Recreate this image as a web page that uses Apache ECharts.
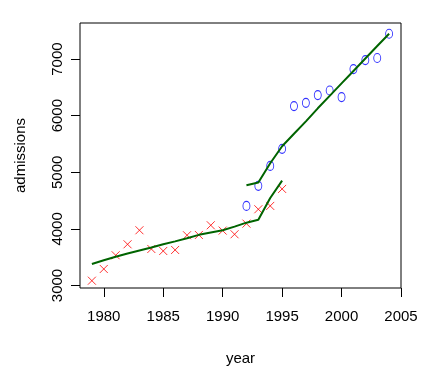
<!DOCTYPE html>
<html>
<head>
<meta charset="utf-8">
<script src="https://cdn.jsdelivr.net/npm/echarts@6/dist/echarts.min.js"></script>
<style>
html,body{margin:0;padding:0;background:#fff;}
#chart{width:427px;height:378px;}
</style>
</head>
<body>
<div id="chart"></div>
<script>
// Red "x" points (earlier series)
var redYears = [1979,1980,1981,1982,1983,1984,1985,1986,1987,1988,1989,1990,1991,1992,1993,1994,1995];
var redValues = [3085,3292,3534,3728,3976,3645,3610,3628,3888,3893,4064,3970,3905,4093,4347,4406,4706];
// Blue "o" points (later series)
var blueYears = [1992,1993,1994,1995,1996,1997,1998,1999,2000,2001,2002,2003,2004];
var blueValues = [4406,4760,5113,5414,6169,6227,6363,6445,6328,6823,6982,7018,7447];
// Fitted (smoothed) green lines
var redFitYears = [1979,1980,1981,1982,1983,1984,1985,1986,1987,1988,1989,1990,1991,1992,1993,1994,1995];
var redFitValues = [3380,3445,3509,3565,3618,3670,3730,3780,3835,3895,3935,3975,4040,4110,4160,4545,4853];
var blueFitYears = [1992,1993,1994,1995,1996,1997,1998,1999,2000,2001,2002,2003,2004];
var blueFitValues = [4770,4820,5160,5460,5680,5900,6130,6350,6570,6790,7010,7230,7447];
// Axis ticks
var xTicks = [1980,1985,1990,1995,2000,2005];
var yTicks = [3000,4000,5000,6000,7000];

function pairs(xs, ys){ return xs.map(function(x,i){ return [x, ys[i]]; }); }
function plain(v){ return String(v); }

var crossPath = 'path://M0,0L10,10M10,0L0,10';
var ovalPath = 'path://M0,6C0,2.7 2.2,0 5,0C7.8,0 10,2.7 10,6C10,9.3 7.8,12 5,12C2.2,12 0,9.3 0,6Z';
var font = 'Liberation Sans, Arial, sans-serif';

var chart = echarts.init(document.getElementById('chart'), null, {renderer:'canvas'});
chart.setOption({
  animation: false,
  backgroundColor: '#fff',
  grid: {left: 80, right: 26, top: 23, bottom: 90, show: true, borderColor: '#000', borderWidth: 1, backgroundColor: 'transparent'},
  xAxis: {
    type: 'value', min: 1978, max: 2005,
    name: 'year', nameLocation: 'middle', nameGap: 63,
    nameTextStyle: {fontFamily: font, fontSize: 15, color: '#000'},
    axisLine: {show: false},
    splitLine: {show: false},
    axisTick: {show: true, length: 9, customValues: xTicks, lineStyle: {color: '#000', width: 1}},
    axisLabel: {customValues: xTicks, formatter: plain, margin: 21, fontFamily: font, fontSize: 15, color: '#000'}
  },
  yAxis: {
    type: 'value', min: 2956, max: 7637,
    name: 'admissions', nameLocation: 'middle', nameGap: 52,
    nameTextStyle: {fontFamily: font, fontSize: 15, color: '#000'},
    axisLine: {show: false},
    splitLine: {show: false},
    axisTick: {show: true, length: 9, customValues: yTicks, lineStyle: {color: '#000', width: 1}},
    axisLabel: {customValues: yTicks, formatter: plain, rotate: 90, margin: 15, fontFamily: font, fontSize: 15, color: '#000'}
  },
  series: [
    {type: 'scatter', data: pairs(redYears, redValues), symbol: crossPath, symbolSize: 8,
     itemStyle: {color: 'none', borderColor: '#ff0000', borderWidth: 1}, z: 3},
    {type: 'scatter', data: pairs(blueYears, blueValues), symbol: ovalPath, symbolSize: [7, 9],
     itemStyle: {color: 'none', borderColor: '#0000ff', borderWidth: 1}, z: 3},
    {type: 'line', data: pairs(redFitYears, redFitValues), showSymbol: false, symbol: 'none',
     lineStyle: {color: '#006400', width: 2}, z: 4},
    {type: 'line', data: pairs(blueFitYears, blueFitValues), showSymbol: false, symbol: 'none',
     lineStyle: {color: '#006400', width: 2}, z: 4}
  ]
});
</script>
</body>
</html>
